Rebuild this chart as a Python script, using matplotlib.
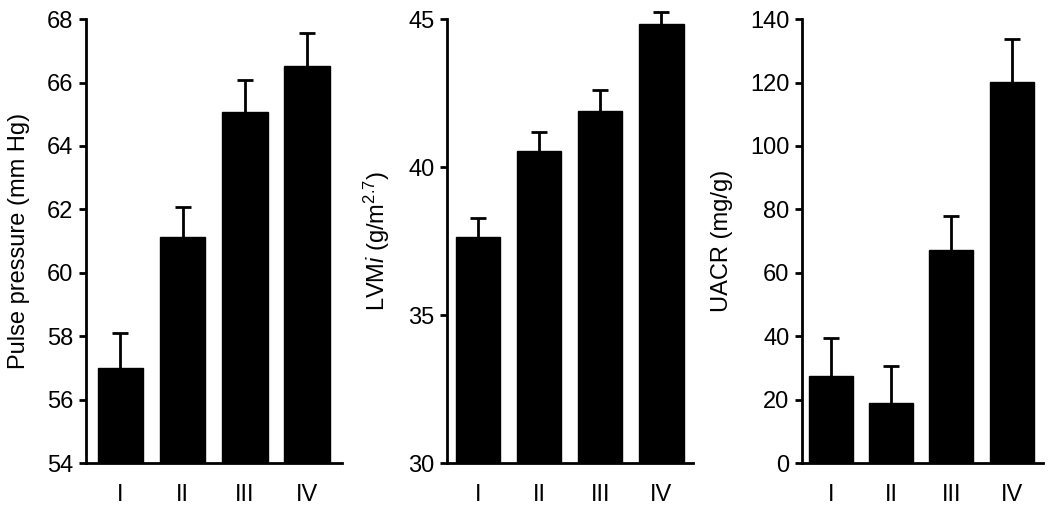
import matplotlib
matplotlib.use("Agg")
import matplotlib.pyplot as plt
import numpy as np

plt.rcParams['font.family'] = ['Liberation Sans', 'DejaVu Sans']
plt.rcParams['mathtext.fontset'] = 'custom'
plt.rcParams['mathtext.rm'] = 'Liberation Sans'
plt.rcParams['mathtext.it'] = 'Liberation Sans:italic'

# Данные
groups = ['I', 'II', 'III', 'IV']

pulse_mean = [57.0, 61.13, 65.07, 66.52]
pulse_top = [58.1, 62.08, 66.08, 67.56]

lvmi_mean = [37.63, 40.54, 41.89, 44.83]
lvmi_top = [38.28, 41.18, 42.6, 45.24]

uacr_mean = [27.4, 18.9, 67.2, 120.2]
uacr_top = [39.4, 30.6, 77.9, 133.7]

# (среднее, верх ошибки, пределы y, деления, подпись, положение осей, пределы x)
panels = [
    (pulse_mean, pulse_top, (54, 68), [54, 56, 58, 60, 62, 64, 66, 68],
     'Pulse pressure (mm Hg)', [0.0819, 0.0957, 0.2438, 0.867], (-0.55, 3.56)),
    (lvmi_mean, lvmi_top, (30, 45), [30, 35, 40, 45],
     r'LVM$\it{i}$ (g/m$^{2.7}$)', [0.4257, 0.0957, 0.2343, 0.867], (-0.51, 3.52)),
    (uacr_mean, uacr_top, (0, 140), [0, 20, 40, 60, 80, 100, 120, 140],
     'UACR (mg/g)', [0.7638, 0.0957, 0.2295, 0.867], (-0.48, 3.52)),
]

fig = plt.figure(figsize=(10.5, 5.12), dpi=100)

for mean, top, ylim, yticks, ylabel, rect, xlim in panels:
    ax = fig.add_axes(rect)
    x = np.arange(len(groups))
    mean = np.array(mean)
    err = np.array(top) - mean
    # Ошибки рисуем под столбцами: видна только верхняя половина
    eb = ax.errorbar(x, mean, yerr=err, fmt='none', ecolor='black',
                     elinewidth=2, capsize=5.5, capthick=2, zorder=1)
    for art in list(eb.lines[1]) + list(eb.lines[2]):
        art.set_clip_on(False)
    ax.bar(x, mean - ylim[0], bottom=ylim[0], width=0.73, color='black',
           edgecolor='black', zorder=2)
    ax.set_xlim(*xlim)
    ax.set_ylim(*ylim)
    ax.set_yticks(yticks)
    ax.set_xticks(x)
    ax.set_xticklabels(groups)
    ax.set_ylabel(ylabel, fontsize=17, labelpad=12)
    for s in ['top', 'right']:
        ax.spines[s].set_visible(False)
    for s in ['left', 'bottom']:
        ax.spines[s].set_linewidth(2)
    ax.tick_params(axis='y', direction='out', length=5, width=2, labelsize=17, pad=4)
    ax.tick_params(axis='x', length=0, labelsize=17, pad=15)

fig.savefig('out.png', dpi=100)
